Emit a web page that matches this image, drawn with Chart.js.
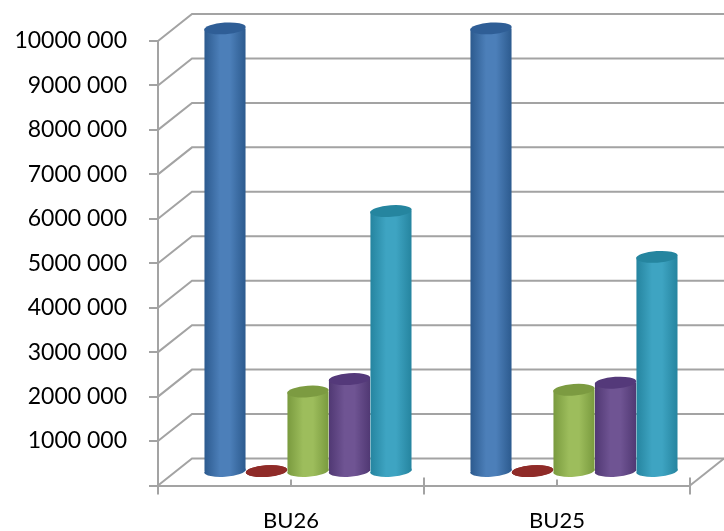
<!DOCTYPE html>
<html><head><meta charset="utf-8">
<script src="https://cdn.jsdelivr.net/npm/chart.js@4/dist/chart.umd.min.js"></script>
<style>html,body{margin:0;padding:0;background:#fff}#w{width:724px;height:531px;position:relative}</style>
</head><body><div id="w"><canvas id="c" width="724" height="531"></canvas></div>
<script>
const categories = ['BU26', 'BU25'];
const seriesA = [9980000, 9980000];
const seriesB = [20000, 20000];
const seriesC = [1810000, 1850000];
const seriesD = [2090000, 2010000];
const seriesE = [5870000, 4840000];
const tickLabels = ['', '1000 000', '2000 000', '3000 000', '4000 000', '5000 000', '6000 000', '7000 000', '8000 000', '9000 000', '10000 000'];
const palettes = [
  {edge:'#2c5a8e', mid:'#4c7fb9', cap:'#2f5e96'},
  {edge:'#8a2826', mid:'#a03431', cap:'#8f2b28'},
  {edge:'#799a3e', mid:'#9dbd5c', cap:'#7c9b41'},
  {edge:'#503873', mid:'#6f5493', cap:'#54397a'},
  {edge:'#25849f', mid:'#3ea4c2', cap:'#25859f'}
];
const GRID = '#a3a3a3', DX = 34, DY = 27, BX = 17, BY = 13.5, CAT = 0.78, RY = 5.8, TILT = -0.07;
const FONT = 'Lato';

function bodyGrad(chart, di, i, p){
  const xs = chart.scales.x;
  const cw = xs.width / categories.length;
  const w = cw * CAT / palettes.length;
  const cx = xs.getPixelForValue(i) + (di - (palettes.length - 1) / 2) * w;
  const g = chart.ctx.createLinearGradient(cx - w/2, 0, cx + w/2, 0);
  g.addColorStop(0, p.edge);
  g.addColorStop(0.38, p.mid);
  g.addColorStop(0.62, p.mid);
  g.addColorStop(1, p.edge);
  return g;
}
function mk(label, data, di){
  return {
    label, data, clip: false, borderWidth: 0,
    backgroundColor: c => c.chart.chartArea ? bodyGrad(c.chart, di, c.dataIndex, palettes[di]) : palettes[di].mid
  };
}
const wall = {
  id: 'wall',
  beforeDatasetsDraw(chart){
    const {ctx, scales:{x, y}} = chart;
    const L = x.left, R = x.right, B = y.bottom;
    ctx.save();
    ctx.strokeStyle = GRID; ctx.lineWidth = 2;
    y.ticks.forEach(t => {
      const py = y.getPixelForValue(t.value);
      ctx.beginPath();
      ctx.moveTo(L, py); ctx.lineTo(L + DX, py - DY); ctx.lineTo(R + DX, py - DY);
      ctx.stroke();
    });
    ctx.beginPath(); ctx.moveTo(R, B); ctx.lineTo(R + DX, B - DY); ctx.stroke();
    categories.forEach((c, i) => {
      const px = x.getPixelForValue(i);
      ctx.beginPath(); ctx.moveTo(px, B - 6); ctx.lineTo(px, B); ctx.stroke();
    });
    const mid = (L + R) / 2;
    ctx.beginPath(); ctx.moveTo(mid, B - 8); ctx.lineTo(mid, B); ctx.stroke();
    ctx.beginPath(); ctx.moveTo(R, B - 8); ctx.lineTo(R, B); ctx.stroke();
    ctx.restore();
  }
};
function silhouette(ctx, el){
  const r = el.width / 2;
  ctx.moveTo(el.x - r, el.y);
  ctx.ellipse(el.x, el.y, r, RY, TILT, Math.PI, Math.PI * 2);
  ctx.ellipse(el.x, el.base, r, RY, TILT, 0, Math.PI);
  ctx.closePath();
}
const cylinders = {
  id: 'cylinders',
  beforeDatasetDraw(chart, args){
    const {ctx} = chart, meta = args.meta, di = args.index;
    ctx.save();
    ctx.translate(BX, -BY);
    meta.data.forEach((el, i) => {
      ctx.beginPath();
      ctx.ellipse(el.x, el.base, el.width / 2, RY, TILT, 0, Math.PI * 2);
      ctx.fillStyle = bodyGrad(chart, di, i, palettes[di]);
      ctx.fill();
    });
    ctx.save();
    ctx.beginPath();
    meta.data.forEach(el => silhouette(ctx, el));
    ctx.clip();
  },
  afterDatasetDraw(chart, args){
    const {ctx} = chart, meta = args.meta, di = args.index;
    ctx.restore();
    meta.data.forEach(el => {
      ctx.beginPath();
      ctx.ellipse(el.x, el.y, el.width / 2, RY, TILT, 0, Math.PI * 2);
      ctx.fillStyle = palettes[di].cap;
      ctx.fill();
    });
    ctx.restore();
  }
};
new Chart(document.getElementById('c'), {
  type: 'bar',
  data: {
    labels: categories,
    datasets: [mk('Series 1', seriesA, 0), mk('Series 2', seriesB, 1), mk('Series 3', seriesC, 2), mk('Series 4', seriesD, 3), mk('Series 5', seriesE, 4)]
  },
  plugins: [wall, cylinders],
  options: {
    responsive: false, animation: false, devicePixelRatio: 1,
    categoryPercentage: CAT, barPercentage: 1,
    layout: {padding: {top: 41, right: 34, left: 0, bottom: 0}},
    plugins: {legend: {display: false}, tooltip: {enabled: false}, title: {display: false}},
    scales: {
      x: {
        grid: {offset: true, drawOnChartArea: false, drawTicks: true, tickLength: 9, color: GRID, lineWidth: 2},
        border: {display: true, color: GRID, width: 2},
        ticks: {color: '#000', font: {family: FONT, size: 22}, padding: 13, maxRotation: 0},
        afterFit(s){ s.height = 45.5; }
      },
      y: {
        min: 0, max: 10000000,
        grid: {drawOnChartArea: false, drawTicks: true, tickLength: 9, color: GRID, lineWidth: 2},
        border: {display: true, color: GRID, width: 2},
        ticks: {stepSize: 1000000, color: '#000', font: {family: FONT, size: 23}, padding: 22,
          callback: (v, i) => tickLabels[i]},
        afterFit(s){ s.width = 158; }
      }
    }
  }
});
</script></body></html>
